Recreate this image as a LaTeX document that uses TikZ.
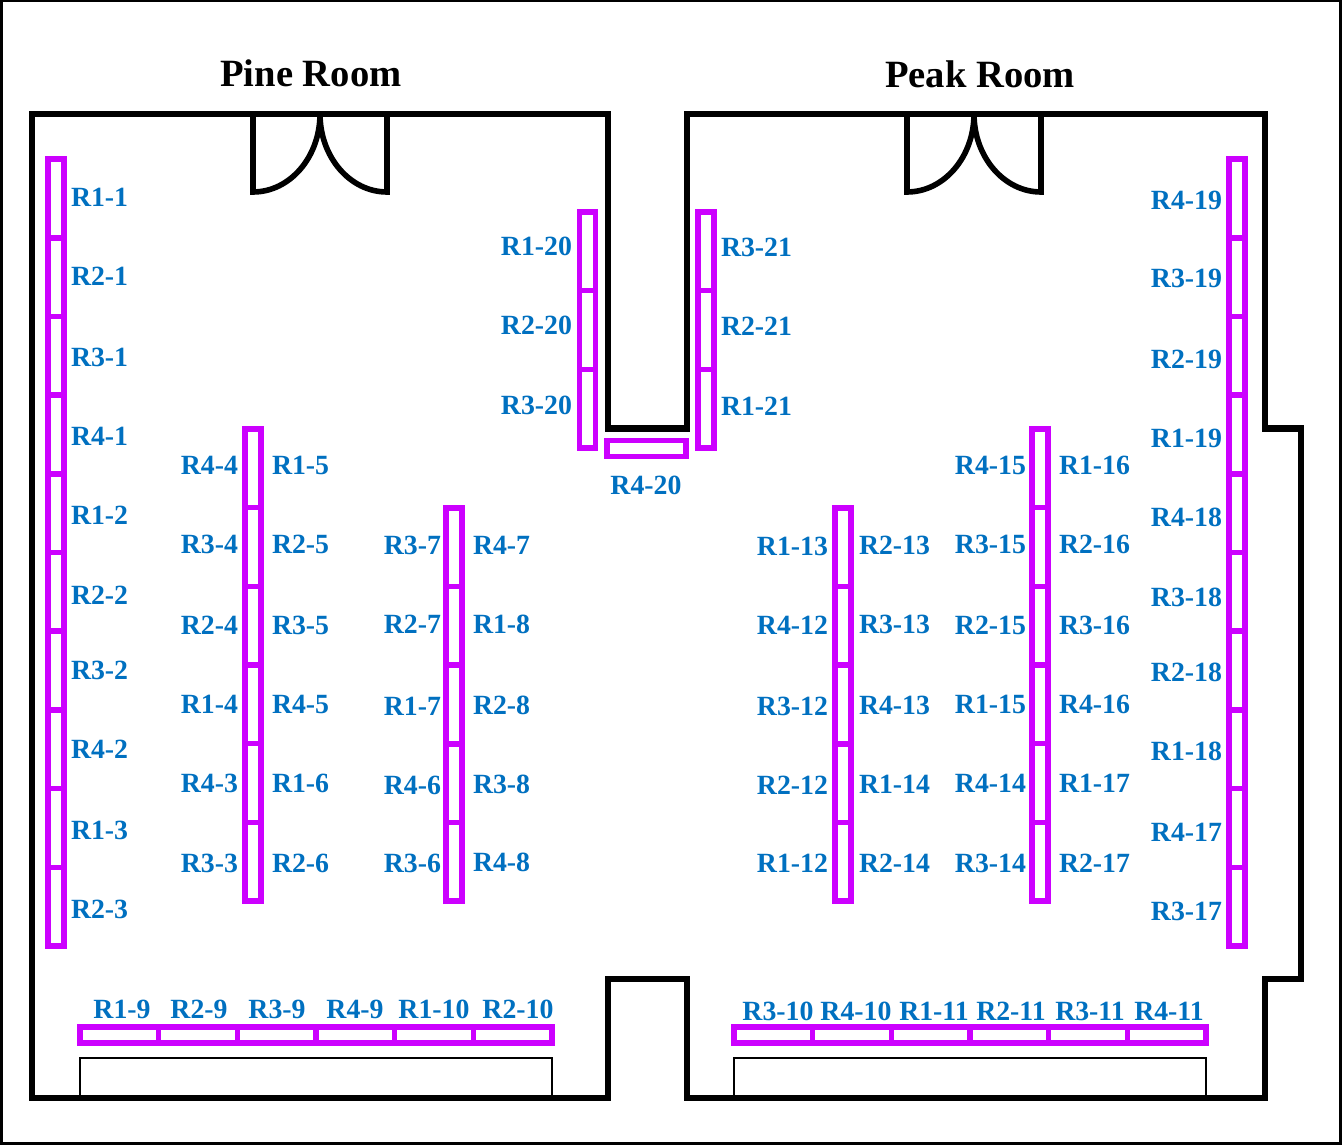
\documentclass[tikz,border=0pt]{standalone}
\usepackage{fontspec}
\setmainfont{Liberation Serif}
\definecolor{rackc}{HTML}{CC00FF}
\definecolor{labc}{HTML}{0070C0}
\tikzset{
  wall/.style={draw=black,line width=6.2pt,miter limit=10},
  door/.style={draw=black,line width=5.6pt,line join=miter},
  frame/.style={draw=black,line width=3pt},
  bench/.style={draw=black,line width=2.8pt},
  rack/.style={draw=rackc,line width=5.6pt},
  lab/.style={text=labc,font=\bfseries\fontsize{27.8}{27.8}\selectfont,inner sep=0pt,outer sep=0pt},
  room/.style={text=black,font=\bfseries\fontsize{38.6}{38.6}\selectfont,inner sep=0pt,outer sep=0pt,anchor=base}
}
\newcommand{\vrack}[4]{% x, ytop, ybottom, segments
  \draw[rack] ({#1-8},#2) rectangle ({#1+8},#3);
  \pgfmathsetmacro{\segh}{(#3-#2)/#4}
  \foreach \k in {1,...,\numexpr#4-1\relax}{
    \draw[rack] ({#1-8},{#2+\k*\segh}) -- ({#1+8},{#2+\k*\segh});
  }
}
\newcommand{\hrack}[4]{% xleft, xright, ycentre, segments
  \draw[rack] (#1,{#3-8}) rectangle (#2,{#3+8});
  \pgfmathsetmacro{\segw}{(#2-#1)/#4}
  \foreach \k in {1,...,\numexpr#4-1\relax}{
    \draw[rack] ({#1+\k*\segw},{#3-8}) -- ({#1+\k*\segw},{#3+8});
  }
}
\newcommand{\labsW}[2]{\foreach \t/\y in {#2}{\node[lab,anchor=base west] (\t) at (#1,{\y+9}) {\t};}}
\newcommand{\labsE}[2]{\foreach \t/\y in {#2}{\node[lab,anchor=base east] (\t) at (#1,{\y+9}) {\t};}}
\newcommand{\labsC}[2]{\foreach \t/\x in {#2}{\node[lab,anchor=base] (\t) at (\x,{#1+9}) {\t};}}
\begin{document}
\begin{tikzpicture}[x=1pt,y=-1pt]
\useasboundingbox (0,0) rectangle (1342,1145);
\path[fill=white] (0,0) rectangle (1342,1145);
\draw[frame] (1.5,1) rectangle (1340.5,1143.5);

% benches (below the walls)
\draw[bench] (80,1098) -- (80,1058) -- (552,1058) -- (552,1098);
\draw[bench] (734,1098) -- (734,1058) -- (1206,1058) -- (1206,1098);

% walls
\draw[wall] (32,114) -- (608,114) -- (608,428.5) -- (687,428.5) -- (687,114) -- (1265,114)
  -- (1265,428.5) -- (1301,428.5) -- (1301,979) -- (1265,979) -- (1265,1098) -- (687,1098)
  -- (687,979) -- (608,979) -- (608,1098) -- (32,1098) -- cycle;

% doors
\foreach \a/\b/\c in {253/320/387,907/974/1041}{
  \draw[door] (\a,114) -- (\a,192) .. controls ({\a+37},192) and (\b,157) .. (\b,114);
  \draw[door] (\c,114) -- (\c,192) .. controls ({\c-37},192) and (\b,157) .. (\b,114);
}

% racks
\vrack{56}{159}{946}{10}
\vrack{253}{429}{901}{6}
\vrack{454}{508}{901}{5}
\vrack{587.5}{212}{448}{3}
\vrack{706}{212}{448}{3}
\vrack{843}{508}{901}{5}
\vrack{1040}{429}{901}{6}
\vrack{1237}{159}{946}{10}
\hrack{607}{686}{448.5}{1}
\hrack{80}{552}{1035}{6}
\hrack{734}{1206}{1035}{6}

% titles
\node[room] (pine) at (311,87) {Pine Room};
\node[room] (peak) at (980,88) {Peak Room};

% labels
\labsW{71}{R1-1/198,R2-1/276,R3-1/357,R4-1/436,R1-2/515,R2-2/595,R3-2/670,R4-2/749,R1-3/830,R2-3/909}
\labsE{238}{R4-4/465,R3-4/544,R2-4/625,R1-4/704,R4-3/783,R3-3/863}
\labsW{272}{R1-5/465,R2-5/544,R3-5/625,R4-5/704,R1-6/783,R2-6/863}
\labsE{441}{R3-7/545,R2-7/624,R1-7/706,R4-6/785,R3-6/863}
\labsW{473}{R4-7/545,R1-8/624,R2-8/705,R3-8/784,R4-8/862}
\labsE{572}{R1-20/246,R2-20/325,R3-20/405}
\labsW{721}{R3-21/247,R2-21/326,R1-21/406}
\labsC{485}{R4-20/646}
\labsE{828}{R1-13/546,R4-12/625,R3-12/706,R2-12/785,R1-12/863}
\labsW{859}{R2-13/545,R3-13/624,R4-13/705,R1-14/784,R2-14/863}
\labsE{1026}{R4-15/465,R3-15/544,R2-15/625,R1-15/704,R4-14/783,R3-14/863}
\labsW{1059}{R1-16/465,R2-16/544,R3-16/625,R4-16/704,R1-17/783,R2-17/863}
\labsE{1222}{R4-19/200,R3-19/278,R2-19/359,R1-19/438,R4-18/517,R3-18/597,R2-18/672,R1-18/751,R4-17/832,R3-17/911}
\labsC{1009}{R1-9/122,R2-9/199,R3-9/277,R4-9/355,R1-10/434,R2-10/518}
\labsC{1011}{R3-10/778,R4-10/856,R1-11/934,R2-11/1011,R3-11/1090,R4-11/1169}
\end{tikzpicture}
\end{document}
